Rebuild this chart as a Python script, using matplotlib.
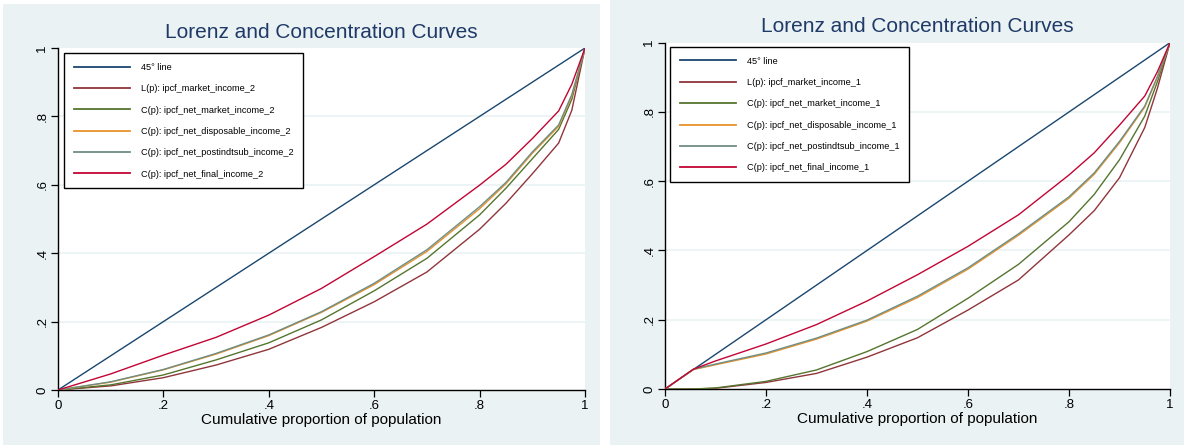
import matplotlib
matplotlib.use("Agg")
import matplotlib.pyplot as plt
from matplotlib.patches import Rectangle

plt.rcParams['font.family'] = ['Liberation Sans', 'DejaVu Sans']

# ---------------- data ----------------
title_text = "Lorenz and Concentration Curves"
xlabel_text = "Cumulative proportion of population"
tick_values = [0, 0.2, 0.4, 0.6, 0.8, 1]
tick_labels = ["0", ".2", ".4", ".6", ".8", "1"]

# Left panel (income_2)
p_left = [0, 0.1, 0.2, 0.3, 0.4, 0.5, 0.6, 0.7, 0.8, 0.85, 0.9, 0.95, 0.975, 1]
line45 = [0, 1]
market_2 = [0, 0.012, 0.036, 0.073, 0.119, 0.183, 0.258, 0.345, 0.470, 0.546, 0.632, 0.722, 0.818, 1]
net_market_2 = [0, 0.015, 0.044, 0.088, 0.138, 0.205, 0.290, 0.385, 0.512, 0.590, 0.676, 0.762, 0.850, 1]
net_disp_2 = [0, 0.023, 0.059, 0.105, 0.159, 0.227, 0.308, 0.405, 0.530, 0.603, 0.692, 0.771, 0.860, 1]
net_post_2 = [0, 0.024, 0.060, 0.107, 0.161, 0.229, 0.312, 0.410, 0.536, 0.607, 0.696, 0.775, 0.864, 1]
net_final_2 = [0, 0.047, 0.102, 0.154, 0.219, 0.297, 0.390, 0.485, 0.599, 0.660, 0.735, 0.816, 0.894, 1]

# Right panel (income_1)
p_right = [0, 0.056, 0.1, 0.2, 0.3, 0.4, 0.5, 0.6, 0.7, 0.8, 0.85, 0.9, 0.95, 0.975, 1]
market_1 = [0, 0, 0.002, 0.019, 0.045, 0.092, 0.148, 0.228, 0.315, 0.445, 0.515, 0.610, 0.755, 0.868, 1]
net_market_1 = [0, 0, 0.003, 0.022, 0.055, 0.108, 0.172, 0.262, 0.360, 0.483, 0.562, 0.662, 0.788, 0.887, 1]
net_disp_1 = [0, 0.056, 0.070, 0.101, 0.144, 0.196, 0.264, 0.346, 0.444, 0.551, 0.620, 0.711, 0.814, 0.900, 1]
net_post_1 = [0, 0.057, 0.072, 0.104, 0.147, 0.199, 0.268, 0.350, 0.448, 0.555, 0.624, 0.715, 0.817, 0.902, 1]
net_final_1 = [0, 0.057, 0.081, 0.130, 0.186, 0.254, 0.330, 0.412, 0.503, 0.618, 0.682, 0.762, 0.846, 0.916, 1]

labels_left = ["45° line", "L(p): ipcf_market_income_2", "C(p): ipcf_net_market_income_2",
               "C(p): ipcf_net_disposable_income_2", "C(p): ipcf_net_postindtsub_income_2",
               "C(p): ipcf_net_final_income_2"]
labels_right = ["45° line", "L(p): ipcf_market_income_1", "C(p): ipcf_net_market_income_1",
                "C(p): ipcf_net_disposable_income_1", "C(p): ipcf_net_postindtsub_income_1",
                "C(p): ipcf_net_final_income_1"]

colors = ["#1A476F", "#90353B", "#55752F", "#E8922C", "#6E8E84", "#C10534"]
BG = "#EAF2F3"
TITLE_C = "#1F3A68"

W, H = 1184, 446
fig = plt.figure(figsize=(W / 100, H / 100), dpi=100)
fig.patch.set_facecolor("white")

def px_rect(x0, y0, x1, y1):
    return [x0 / W, 1 - y1 / H, (x1 - x0) / W, (y1 - y0) / H]

# panel backgrounds
for (x0, y0, x1, y1) in [(3, 4, 600, 445), (610, 0, 1184, 445)]:
    r = px_rect(x0, y0, x1, y1)
    fig.add_artist(Rectangle((r[0], r[1]), r[2], r[3], transform=fig.transFigure,
                             facecolor=BG, edgecolor="none", zorder=-10))

def draw_panel(rect_px, p, series, labels, leg_anchor, title_y):
    ax = fig.add_axes(px_rect(*rect_px))
    ax.set_facecolor("white")
    ax.set_xlim(0, 1)
    ax.set_ylim(0, 1)
    for yv in tick_values[1:-1]:
        ax.axhline(yv, color=BG, lw=1.2, zorder=0)
    ax.plot([0, 1], line45, color=colors[0], lw=1.0, label=labels[0], zorder=3)
    for s, c, lab in zip(series, colors[1:], labels[1:]):
        ax.plot(p, s, color=c, lw=1.0, label=lab, zorder=3)
    for sp in ["top", "right"]:
        ax.spines[sp].set_visible(False)
    for sp in ["left", "bottom"]:
        ax.spines[sp].set_color("black")
        ax.spines[sp].set_linewidth(1.0)
    ax.set_xticks(tick_values)
    ax.set_xticklabels(tick_labels)
    ax.set_yticks(tick_values)
    ax.set_yticklabels(tick_labels, rotation=90, va="center")
    ax.tick_params(direction="out", length=5, width=0.9, labelsize=9.5, colors="black", pad=2)
    ax.set_xlabel(xlabel_text, fontsize=11, labelpad=1)
    leg = ax.legend(loc="upper left", bbox_to_anchor=leg_anchor, fontsize=6.6,
                    handlelength=6.1, handletextpad=1.2, labelspacing=1.35,
                    borderpad=1.05, frameon=True, fancybox=False, framealpha=1,
                    edgecolor="black", borderaxespad=0)
    leg.get_frame().set_linewidth(1.0)
    for h in leg.get_lines():
        h.set_linewidth(1.3)
    cx = (rect_px[0] + rect_px[2]) / 2 / W
    fig.text(cx, 1 - title_y / H, title_text, ha="center", va="center",
             fontsize=15, color=TITLE_C)
    return ax

draw_panel((58, 48, 585, 390), p_left,
           [market_2, net_market_2, net_disp_2, net_post_2, net_final_2],
           labels_left, (0.0114, 0.985), 33)
draw_panel((665, 42.7, 1170, 389), p_right,
           [market_1, net_market_1, net_disp_1, net_post_1, net_final_1],
           labels_right, (0.0099, 0.9876), 27)

fig.savefig("out.png", dpi=100)
